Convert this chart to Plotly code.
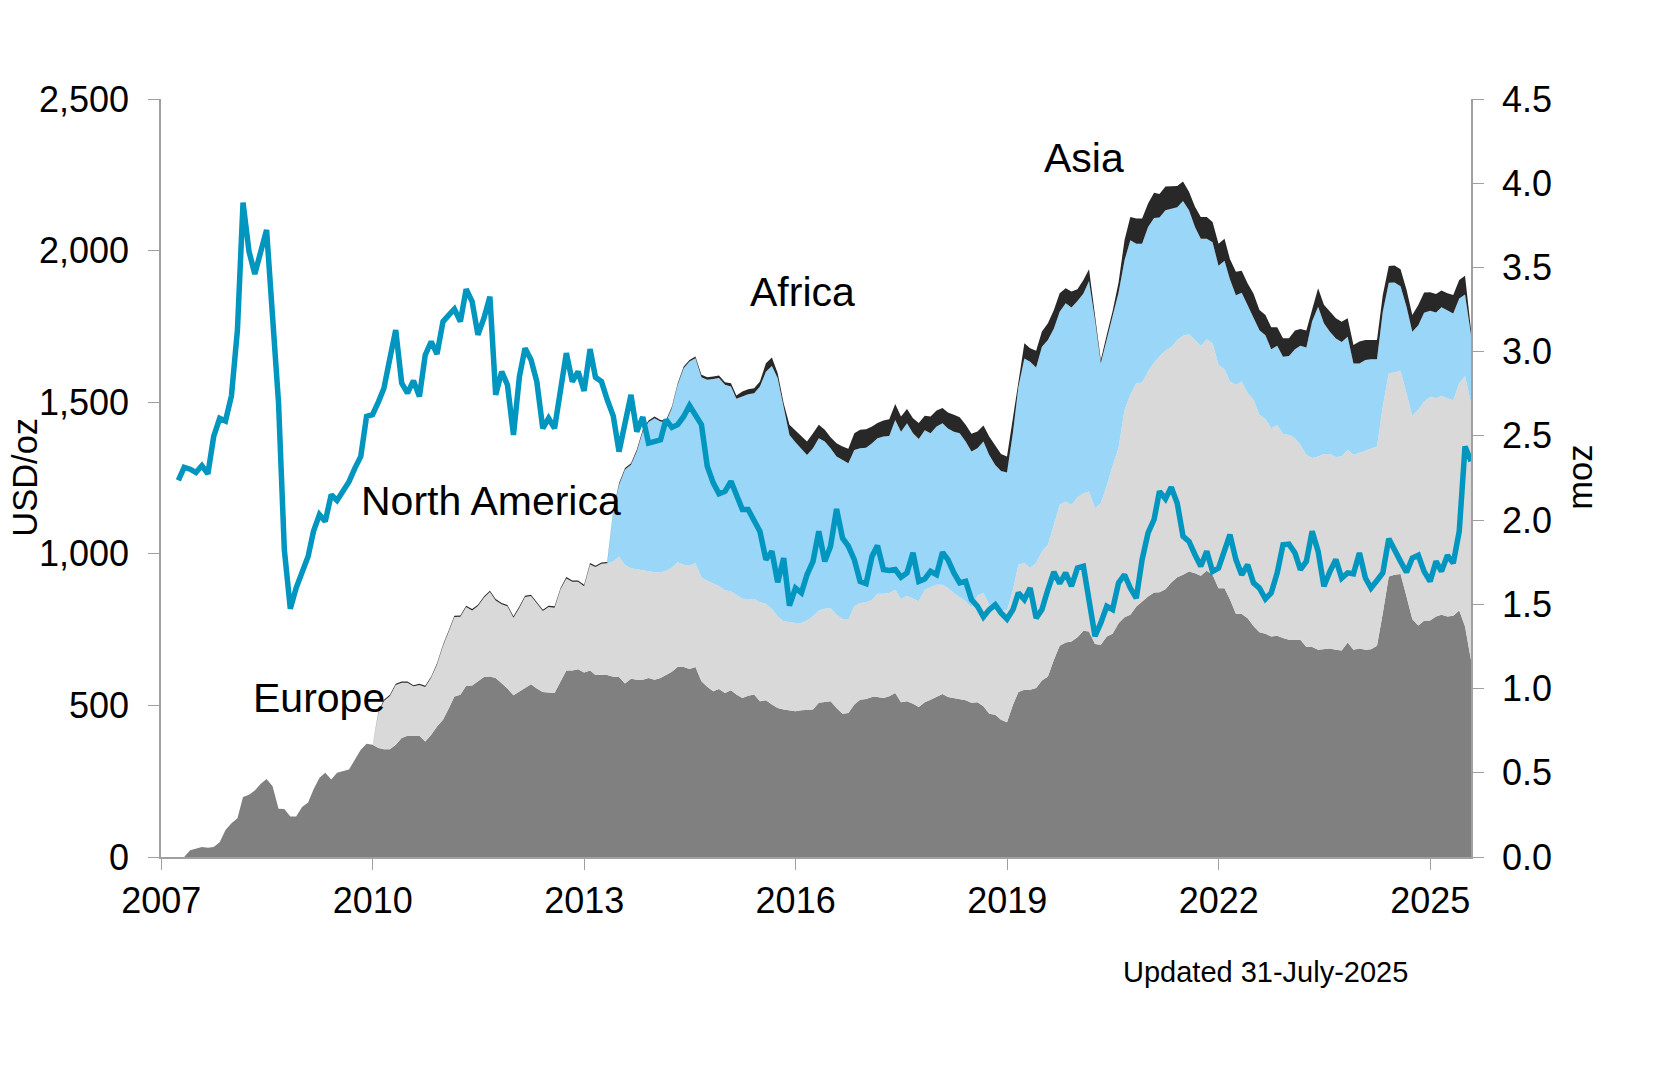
import numpy as np
import pandas as pd
import plotly.graph_objects as go

months = pd.date_range("2007-03-31", "2025-07-31", freq="ME")
year_ticks = ["2007-01-01", "2010-01-01", "2013-01-01", "2016-01-01", "2019-01-01", "2022-01-01", "2025-01-01"]
year_labels = ["2007", "2010", "2013", "2016", "2019", "2022", "2025"]

price_usd_oz = [
    1242,1285,1279,1268,1291,1264,1387,1447,1438,1521,
    1738,2158,1997,1923,1997,2068,1782,1497,1013,819,
    887,936,991,1074,1129,1107,1195,1176,1205,1238,
    1282,1321,1453,1459,1502,1546,1645,1738,1563,1530,
    1571,1519,1656,1700,1659,1766,1788,1807,1766,1873,
    1832,1722,1777,1848,1524,1601,1557,1392,1585,1678,
    1640,1568,1414,1447,1414,1530,1662,1568,1601,1537,
    1675,1582,1568,1508,1455,1337,1442,1524,1403,1451,
    1365,1370,1376,1442,1417,1426,1453,1489,1459,1426,
    1289,1234,1198,1206,1239,1190,1146,1146,1113,1074,
    981,1008,906,986,829,887,871,931,975,1074,
    975,1025,1148,1052,1025,981,909,902,992,1027,
    948,945,948,923,937,1003,909,917,942,931,
    1005,981,937,904,909,849,827,792,816,832,
    805,785,816,871,849,887,788,816,882,940,
    902,937,893,953,959,838,728,772,827,816,
    904,931,887,854,981,1069,1113,1206,1181,1220,
    1167,1058,1041,997,959,1008,942,953,1019,1063,
    981,931,964,904,887,851,871,937,1030,1032,
    1003,948,975,1074,1008,893,942,981,920,937,
    934,1003,920,887,912,937,1050,1008,975,939,
    986,995,942,909,975,942,995,969,1074,1354,
    1305,
]

europe = [
    0,0,.04,.05,.06,.055,.06,.087,.16,.2,
    .23,.356,.37,.395,.435,.463,.42,.287,.285,.24,
    .24,.297,.324,.40,.47,.50,.46,.50,.51,.52,
    .577,.637,.672,.666,.647,.64,.64,.666,.706,.72,
    .72,.72,.686,.726,.775,.815,.884,.953,.963,1.016,
    1.018,1.042,1.068,1.072,1.062,1.032,1.0,.96,.983,1.008,
    1.026,1.0,.979,.977,.973,1.042,1.107,1.107,1.115,1.095,
    1.107,1.08,1.08,1.08,1.07,1.068,1.03,1.058,1.052,1.052,
    1.062,1.052,1.062,1.08,1.10,1.13,1.128,1.116,1.128,1.043,
    1.01,.984,.997,.974,.99,.964,.944,.958,.964,.924,
    .93,.905,.885,.875,.871,.865,.871,.871,.875,.915,
    .92,.924,.885,.851,.855,.905,.934,.938,.95,.95,
    .944,.954,.974,.918,.924,.91,.89,.918,.934,.95,
    .968,.95,.944,.934,.93,.915,.918,.895,.851,.845,
    .815,.80,.904,.979,.993,.993,1.003,1.048,1.072,1.171,
    1.254,1.273,1.28,1.305,1.343,1.339,1.264,1.26,1.309,1.325,
    1.388,1.424,1.438,1.487,1.517,1.546,1.57,1.572,1.59,1.63,
    1.661,1.675,1.695,1.685,1.67,1.70,1.675,1.596,1.596,1.53,
    1.444,1.442,1.418,1.372,1.335,1.325,1.309,1.313,1.30,1.29,
    1.29,1.29,1.246,1.246,1.23,1.234,1.238,1.23,1.226,1.273,
    1.23,1.238,1.23,1.234,1.254,1.447,1.665,1.675,1.68,1.546,
    1.412,1.374,1.402,1.404,1.428,1.438,1.428,1.432,1.463,1.368,
    1.17,
]

# cumulative Europe + North America, as read from the top of the light grey band
through_north_america = [
    0,0,.04,.05,.06,.055,.06,.087,.16,.2,
    .23,.356,.37,.395,.435,.463,.42,.287,.285,.24,
    .24,.297,.324,.40,.47,.50,.46,.50,.51,.52,
    .577,.637,.672,
    .666,.857,.926,.956,1.021,1.035,1.035,
    1.013,1.021,1.009,1.065,1.143,1.253,1.342,1.425,1.427,1.484,
    1.464,1.49,1.539,1.573,1.523,1.50,1.488,1.421,1.48,1.543,
    1.549,1.504,1.46,1.484,1.48,1.589,1.654,1.634,1.634,1.608,
    1.737,1.721,1.741,1.744,1.754,1.784,1.734,1.714,1.708,1.703,
    1.70,1.69,1.69,1.70,1.718,1.75,1.735,1.729,1.745,1.66,
    1.64,1.622,1.607,1.583,1.577,1.557,1.533,1.532,1.532,1.512,
    1.504,1.472,1.429,1.399,1.393,1.389,1.389,1.405,1.429,1.464,
    1.474,1.478,1.438,1.413,1.409,1.488,1.508,1.512,1.527,1.563,
    1.563,1.567,1.587,1.532,1.551,1.532,1.518,1.587,1.603,1.616,
    1.616,1.597,1.567,1.544,1.518,1.484,1.551,1.567,1.498,1.488,
    1.468,1.464,1.587,1.735,1.745,1.715,1.745,1.814,1.854,1.972,
    2.091,2.11,2.09,2.136,2.16,2.17,2.07,2.10,2.205,2.323,
    2.43,2.655,2.744,2.813,2.817,2.882,2.935,2.971,3.007,3.026,
    3.07,3.094,3.103,3.07,3.034,3.074,3.05,2.921,2.896,2.823,
    2.803,2.823,2.754,2.714,2.625,2.6,2.546,2.565,2.512,2.506,
    2.486,2.447,2.388,2.368,2.378,2.393,2.393,2.374,2.378,2.417,
    2.388,2.40,2.413,2.423,2.437,2.674,2.872,2.876,2.887,2.753,
    2.619,2.655,2.704,2.733,2.724,2.738,2.724,2.71,2.813,2.856,
    2.694,
]

# cumulative total, as read from the top edge of the stack
total_holdings = [
    0,0,.04,.05,.06,.055,.06,.087,.16,.2,
    .23,.356,.37,.395,.435,.463,.42,.287,.285,.24,
    .24,.297,.324,.40,.47,.50,.46,.50,.51,.52,
    .577,.637,.672,.666,
    .864,.933,.963,1.028,1.042,1.042,
    1.02,1.028,1.016,1.072,1.15,1.26,1.349,1.432,1.434,1.491,
    1.471,1.497,1.546,1.58,1.53,1.507,1.495,1.428,1.487,1.55,
    1.556,1.511,1.467,1.491,1.487,1.596,1.661,1.641,1.641,1.615,
    1.744,1.728,1.748,1.75,2.06,2.219,2.31,2.338,2.418,2.536,
    2.592,2.615,2.595,2.591,2.675,2.813,2.912,2.951,2.971,2.863,
    2.848,2.852,2.858,2.819,2.813,2.74,2.764,2.777,2.783,2.823,
    2.931,2.965,2.872,2.694,2.566,2.532,2.496,2.467,2.516,2.566,
    2.536,2.492,2.457,2.437,2.423,2.516,2.536,2.54,2.556,2.576,
    2.591,2.599,2.69,2.615,2.66,2.605,2.576,2.619,2.615,2.651,
    2.665,2.639,2.625,2.611,2.566,2.512,2.526,2.562,2.496,2.447,
    2.392,2.378,2.60,2.82,3.05,3.02,3.006,3.119,3.169,3.248,
    3.347,3.377,3.357,3.371,3.426,3.49,3.208,2.951,3.10,3.24,
    3.41,3.663,3.80,3.79,3.79,3.88,3.944,3.936,3.98,3.98,
    3.983,4.01,3.95,3.86,3.80,3.80,3.77,3.64,3.67,3.55,
    3.475,3.48,3.405,3.346,3.247,3.217,3.145,3.145,3.08,3.08,
    3.125,3.135,3.125,3.25,3.376,3.278,3.238,3.198,3.178,3.198,
    3.04,3.06,3.07,3.07,3.07,3.337,3.509,3.511,3.489,3.367,
    3.218,3.277,3.351,3.353,3.343,3.363,3.347,3.337,3.426,3.45,
    3.13,
]

asia = [
    0,0,0,0,0,0,0,0,0,0,
    0,0,0,0,0,0,0,0,0,0,
    0,0,0,0,0,0,0,0,0,0,
    0,0,0,0,
    .007,.007,.007,.007,.007,.007,
    .007,.007,.007,.007,.007,.007,.007,.007,.007,.007,
    .008,.008,.008,.008,.008,.008,.008,.008,.008,.008,
    .008,.008,.008,.008,.008,.008,.008,.008,.008,.008,
    .008,.008,.008,.008,.005,.01,.01,.01,.01,.01,
    .01,.01,.01,.01,.01,.01,.01,.01,.01,.015,
    .015,.015,.015,.015,.02,.02,.03,.03,.03,.03,
    .05,.05,.03,.02,.06,.07,.07,.08,.09,.08,
    .07,.065,.08,.08,.085,.10,.11,.11,.10,.09,
    .095,.10,.095,.09,.085,.09,.095,.085,.10,.095,
    .09,.095,.10,.095,.10,.105,.10,.095,.11,.12,
    .10,.095,.08,.03,.09,.08,.10,.09,.10,.11,
    .11,.09,.095,.07,.08,.07,.02,.02,.02,.03,
    .06,.12,.138,.15,.15,.14,.15,.14,.14,.13,
    .125,.115,.11,.12,.13,.13,.12,.13,.13,.12,
    .14,.13,.13,.14,.12,.12,.13,.11,.11,.105,
    .11,.10,.10,.07,.11,.11,.12,.12,.12,.11,
    .11,.13,.12,.115,.115,.10,.10,.10,.10,.10,
    .10,.12,.12,.11,.11,.10,.10,.11,.11,.11,
    .03,
]

north_america = np.clip(np.array(through_north_america) - np.array(europe), 0, None)
africa = np.clip(np.array(total_holdings) - np.array(asia) - np.array(through_north_america), 0, None)

region_labels = ["Asia", "Africa", "North America", "Europe"]
footnote = "Updated 31-July-2025"

W, H = 1654, 1080
L, R, T, B = 161, 1471, 99, 857.5
FONT = "Liberation Sans, Arial, sans-serif"
AXIS = "#A0A0A0"

def stack(name, values, color):
    return go.Scatter(x=months, y=values, name=name, mode="lines", stackgroup="regions",
                      line=dict(width=0), fillcolor=color, xaxis="x", yaxis="y", hoverinfo="skip")

fig = go.Figure()
fig.add_trace(stack("Europe", europe, "#808080"))
fig.add_trace(stack("North America", north_america, "#D9D9D9"))
fig.add_trace(stack("Africa", africa, "#99D6F7"))
fig.add_trace(stack("Asia", asia, "#282828"))
fig.add_trace(go.Scatter(x=months, y=price_usd_oz, name="Price", mode="lines", xaxis="x", yaxis="y2",
                         line=dict(color="#0096BF", width=5.5, shape="linear"), cliponaxis=False))

def px_x(p):
    return (p - L) / (R - L)
def px_y(p):
    return (B - p) / (B - T)

annos = [(region_labels[0], 1084, 158, 41, 0), (region_labels[1], 802, 292, 41, 0),
         (region_labels[2], 491, 501, 41, 0), (region_labels[3], 319, 698, 41, 0),
         (footnote, 1265, 973, 29, 0),
         ("USD/oz", 25, 478, 34.5, -90), ("moz", 1580, 478, 34.5, -90)]
annotations = [dict(text=t, x=px_x(x), y=px_y(y), xref="paper", yref="paper", showarrow=False,
                    xanchor="center", yanchor="middle", textangle=a,
                    font=dict(family=FONT, size=s, color="black"))
               for t, x, y, s, a in annos]

fig.update_layout(
    width=W, height=H, autosize=False, showlegend=False,
    paper_bgcolor="white", plot_bgcolor="white",
    margin=dict(l=L, r=W - R, t=T, b=H - B, pad=0),
    font=dict(family=FONT, size=36, color="black"),
    annotations=annotations,
    xaxis=dict(type="date", range=["2006-12-31", "2025-07-31"], tickmode="array", tickvals=year_ticks,
               ticktext=year_labels, ticks="outside", ticklen=11, tickcolor=AXIS, tickwidth=1,
               showgrid=False, zeroline=False, showline=True, linecolor=AXIS, linewidth=1.5,
               tickfont=dict(family=FONT, size=36), ticklabelstandoff=0),
    yaxis=dict(range=[0, 4.5], side="right", tickmode="linear", tick0=0, dtick=0.5, tickformat=".1f",
               ticks="outside", ticklen=11, tickcolor=AXIS, tickwidth=1, showgrid=False, zeroline=False,
               showline=True, linecolor=AXIS, linewidth=1.5, tickfont=dict(family=FONT, size=36),
               ticklabelstandoff=11),
    yaxis2=dict(range=[0, 2500], side="left", overlaying="y", tickmode="linear", tick0=0, dtick=500,
                tickformat=",d", ticks="outside", ticklen=11, tickcolor=AXIS, tickwidth=1, showgrid=False,
                zeroline=False, showline=True, linecolor=AXIS, linewidth=1.5,
                tickfont=dict(family=FONT, size=36), ticklabelstandoff=12),
)

fig.write_html("out.html", config=dict(displayModeBar=False),
               post_script="document.body.style.margin='0';document.documentElement.style.overflow='hidden';")
